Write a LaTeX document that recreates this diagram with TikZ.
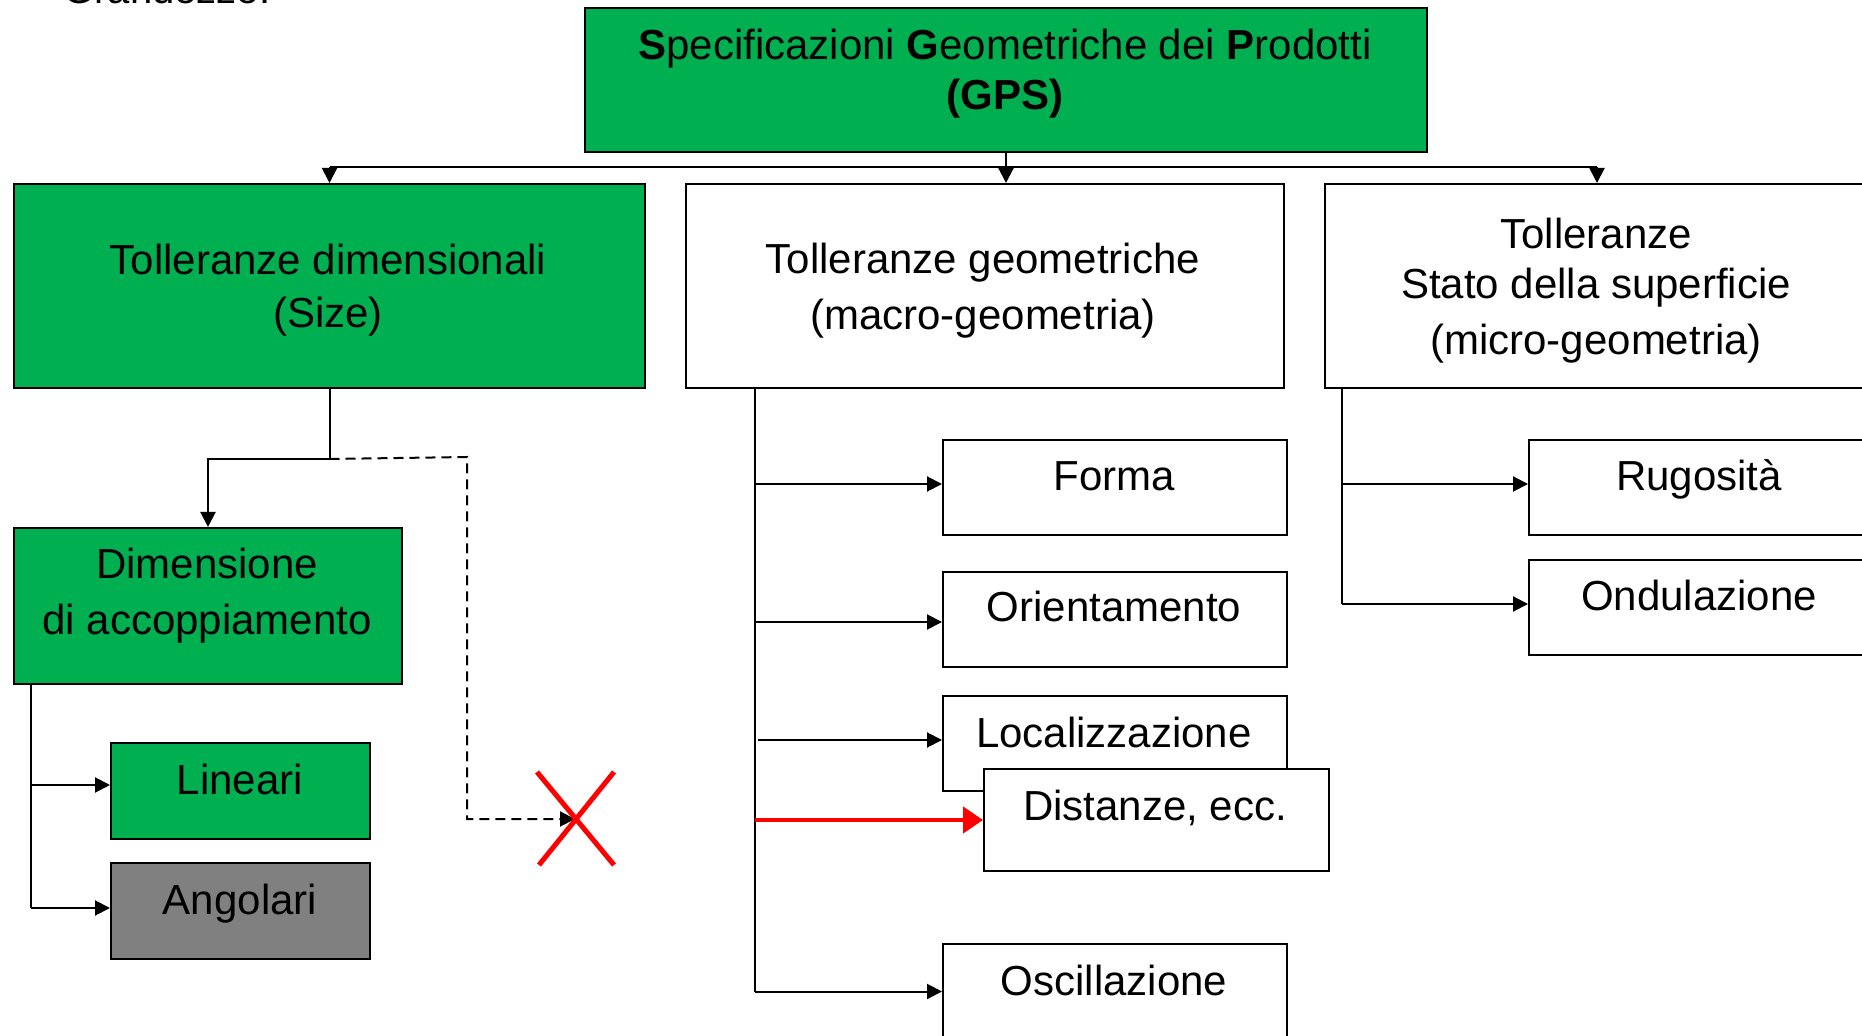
\documentclass[tikz,border=0pt]{standalone}
\usepackage{fontspec}
\setmainfont{Liberation Sans}
\usetikzlibrary{arrows.meta}
\definecolor{gpsgreen}{HTML}{00B050}
\definecolor{anggray}{HTML}{808080}
\begin{document}
\begin{tikzpicture}[x=0.5pt,y=-0.5pt,
  box/.style={draw=black, line width=1pt, inner sep=0pt, anchor=north west, fill=white},
  gbox/.style={box, fill=gpsgreen},
  bigbox/.style={minimum width=172pt, minimum height=47.5pt},
  lbl/.style={font=\fontsize{21}{25}\selectfont, anchor=base, inner sep=0pt},
  ln/.style={line width=1pt},
  arr/.style={line width=1pt, -{Triangle[length=7.5pt,width=7.5pt]}},
  dasharr/.style={arr, dash pattern=on 5pt off 3pt},
  redarr/.style={draw=red, line width=2.25pt, -{Triangle[length=10pt,width=13pt]}},
  redx/.style={draw=red, line width=2.5pt}
]
\path[use as bounding box] (0,0) rectangle (1862,1036);
\clip (0,0) rectangle (1862,1036);

% partially visible heading (cut by the top edge, as in the original)
\node[lbl, anchor=base west, font=\fontsize{20}{24}\selectfont] (grand) at (63,4) {Grandezze:};

% boxes
\node[gbox, minimum width=421pt, minimum height=72pt] (gps) at (584,7) {};
\node[gbox, minimum width=315.5pt, minimum height=102pt] (dim) at (13,183) {};
\node[box, minimum width=299pt, minimum height=102pt] (geo) at (685,183) {};
\node[box, minimum width=272pt, minimum height=102pt] (sta) at (1324,183) {};
\node[gbox, minimum width=194pt, minimum height=78pt] (acc) at (13,527) {};
\node[gbox, minimum width=129.5pt, minimum height=48pt] (lin) at (110,742) {};
\node[box, fill=anggray, minimum width=129.5pt, minimum height=48pt] (ang) at (110,862) {};
\node[box, bigbox] (forma) at (942,439) {};
\node[box, bigbox] (orient) at (942,571) {};
\node[box, bigbox] (local) at (942,695) {};
\node[box, minimum width=172.5pt, minimum height=51pt] (dist) at (983,768) {};
\node[box, bigbox] (osc) at (942,943) {};
\node[box, minimum width=200pt, minimum height=47.5pt] (rug) at (1528,439) {};
\node[box, minimum width=200pt, minimum height=47.5pt] (ond) at (1528,559) {};

% texts
\node[lbl] (gps1) at (1005,60) {\textbf{S}pecificazioni \textbf{G}eometriche dei \textbf{P}rodotti};
\node[lbl] (gps2) at (1005,110) {\textbf{(GPS)}};
\node[lbl] (dim1) at (328,275) {Tolleranze dimensionali};
\node[lbl] (dim2) at (328,328) {(Size)};
\node[lbl] (geo1) at (983,274) {Tolleranze geometriche};
\node[lbl] (geo2) at (983,330) {(macro-geometria)};
\node[lbl] (sta1) at (1596,249) {Tolleranze};
\node[lbl] (sta2) at (1596,299) {Stato della superficie};
\node[lbl] (sta3) at (1596,355) {(micro-geometria)};
\node[lbl] (acc1) at (207,579) {Dimensione};
\node[lbl] (acc2) at (207,635) {di accoppiamento};
\node[lbl] (lint) at (240,794) {Lineari};
\node[lbl] (angt) at (240,914) {Angolari};
\node[lbl] (format) at (1114,491) {Forma};
\node[lbl] (orientt) at (1114,622) {Orientamento};
\node[lbl] (localt) at (1114,747) {Localizzazione};
\node[lbl] (distt) at (1155,820) {Distanze, ecc.};
\node[lbl] (osct) at (1114,995) {Oscillazione};
\node[lbl] (rugt) at (1699,491) {Rugosità};
\node[lbl] (ondt) at (1699,611) {Ondulazione};

% top connectors
\coordinate (bus) at (0,167);
\draw[ln] (dim.north |- bus) -- (sta.north |- bus);
\draw[arr] (dim.north |- bus) -- (dim.north);
\draw[arr] (sta.north |- bus) -- (sta.north);
\draw[arr] (gps.south) -- (gps.south |- geo.north);

% left branch
\path (dim.south) ++(0,70) coordinate (split);
\coordinate (dashturn) at (467,457);
\coordinate (xc) at (575,819);
\draw[ln] (dim.south) -- (split);
\draw[arr] (split) -| (acc.north);
\draw[dasharr] (split) -- (dashturn) |- (xc);
\draw[redx] (537,772) -- (614,865);
\draw[redx] (614,772) -- (539,865);

\path (acc.south west) ++(18,0) coordinate (accsp);
\path ([yshift=3pt]lin.west) coordinate (linin);
\path ([yshift=1.5pt]ang.west) coordinate (angin);
\draw[ln] (accsp) -- (accsp |- angin);
\draw[arr] (accsp |- linin) -- (linin);
\draw[arr] (accsp |- angin) -- (angin);

% middle branch
\path (geo.south west) ++(70,0) coordinate (geosp);
\path ([yshift=1.75pt]forma.west) coordinate (formain);
\path ([yshift=-1.25pt]orient.west) coordinate (orientin);
\path ([yshift=1.75pt]local.west) coordinate (localin);
\draw[ln] (geosp) -- (geosp |- osc.west);
\draw[arr] (geosp |- formain) -- (formain);
\draw[arr] (geosp |- orientin) -- (orientin);
\draw[arr] ([xshift=1.5pt]geosp |- localin) -- (localin);
\draw[redarr] (geosp |- dist.west) -- (dist.west);
\draw[arr] (geosp |- osc.west) -- (osc.west);

% right branch
\path (sta.south west) ++(18,0) coordinate (stasp);
\path ([yshift=1.75pt]rug.west) coordinate (rugin);
\path ([yshift=1.75pt]ond.west) coordinate (ondin);
\draw[ln] (stasp) -- (stasp |- ondin);
\draw[arr] (stasp |- rugin) -- (rugin);
\draw[arr] (stasp |- ondin) -- (ondin);
\end{tikzpicture}
\end{document}
